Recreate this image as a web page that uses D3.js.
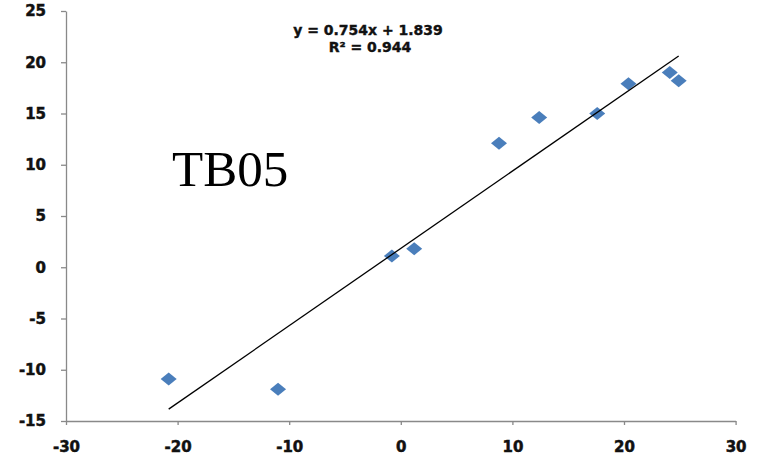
<!DOCTYPE html>
<html><head><meta charset="utf-8">
<script src="https://cdn.jsdelivr.net/npm/d3@7/dist/d3.min.js"></script>
<style>body{margin:0;background:#fff}svg{display:block}</style>
</head><body>
<svg id="c" width="758" height="462"></svg>
<script>
const xValues = [-20.8, -11.0, -0.8, 1.2, 8.8, 12.4, 17.6, 20.4, 24.1, 24.9];
const yValues = [-10.9, -11.9, 1.1, 1.8, 12.1, 14.6, 15.0, 17.9, 19.0, 18.2];
const xTicks = [-30, -20, -10, 0, 10, 20, 30];
const yTicks = [-15, -10, -5, 0, 5, 10, 15, 20, 25];
const slope = 0.754, intercept = 1.839;
const eqLabel = "y = 0.754x + 1.839";
const r2Label = "R² = 0.944";
const title = "TB05";

const svg = d3.select("#c");
const x = d3.scaleLinear().domain([-30, 30]).range([66, 735.6]);
const y = d3.scaleLinear().domain([-15, 25]).range([421, 11]);
const font = "'DejaVu Sans', Verdana, sans-serif";
const fmt = d => String(d);

// axes
const xAxis = d3.axisBottom(x).tickValues(xTicks).tickFormat(fmt).tickSizeInner(4).tickSizeOuter(0).tickPadding(16);
const yAxis = d3.axisLeft(y).tickValues(yTicks).tickFormat(fmt).tickSizeInner(5).tickSizeOuter(0).tickPadding(15);
const gx = svg.append("g").attr("transform", `translate(0,${y(-15)})`).call(xAxis);
const gy = svg.append("g").attr("transform", `translate(${x(-30)},0)`).call(yAxis);
[gx, gy].forEach(g => {
  g.select(".domain").attr("stroke", "#898989").attr("stroke-width", 1.3);
  g.selectAll(".tick line").attr("stroke", "#898989").attr("stroke-width", 1.3);
  g.selectAll(".tick text").attr("fill", "#111").attr("stroke", "#111").attr("stroke-width", 0.5)
    .style("font-family", font).style("font-weight", "bold").style("font-size", "15px");
});

// points
const pts = xValues.map((v, i) => [v, yValues[i]]);
svg.append("g").selectAll("path").data(pts).join("path")
  .attr("d", d => {
    const cx = x(d[0]), cy = y(d[1]);
    return `M${cx - 8},${cy}L${cx},${cy - 6.5}L${cx + 8},${cy}L${cx},${cy + 6.5}Z`;
  })
  .attr("fill", "#4a7ebb");

// trendline
const [xmin, xmax] = d3.extent(xValues);
svg.append("line")
  .attr("x1", x(xmin)).attr("y1", y(slope * xmin + intercept))
  .attr("x2", x(xmax)).attr("y2", y(slope * xmax + intercept))
  .attr("stroke", "#000").attr("stroke-width", 1.3);

// equation labels
[[eqLabel, 368, 35], [r2Label, 370, 52]].forEach(([t, tx, ty]) => {
  svg.append("text").attr("x", tx).attr("y", ty).attr("text-anchor", "middle")
    .style("font-family", font).style("font-weight", "bold").style("font-size", "14px")
    .attr("fill", "#111").attr("stroke", "#111").attr("stroke-width", 0.4).text(t);
});

// title
svg.append("text").attr("x", 172).attr("y", 186)
  .style("font-family", "'Liberation Serif', 'Times New Roman', serif").style("font-size", "51px")
  .attr("fill", "#000").text(title);
</script>
</body></html>
